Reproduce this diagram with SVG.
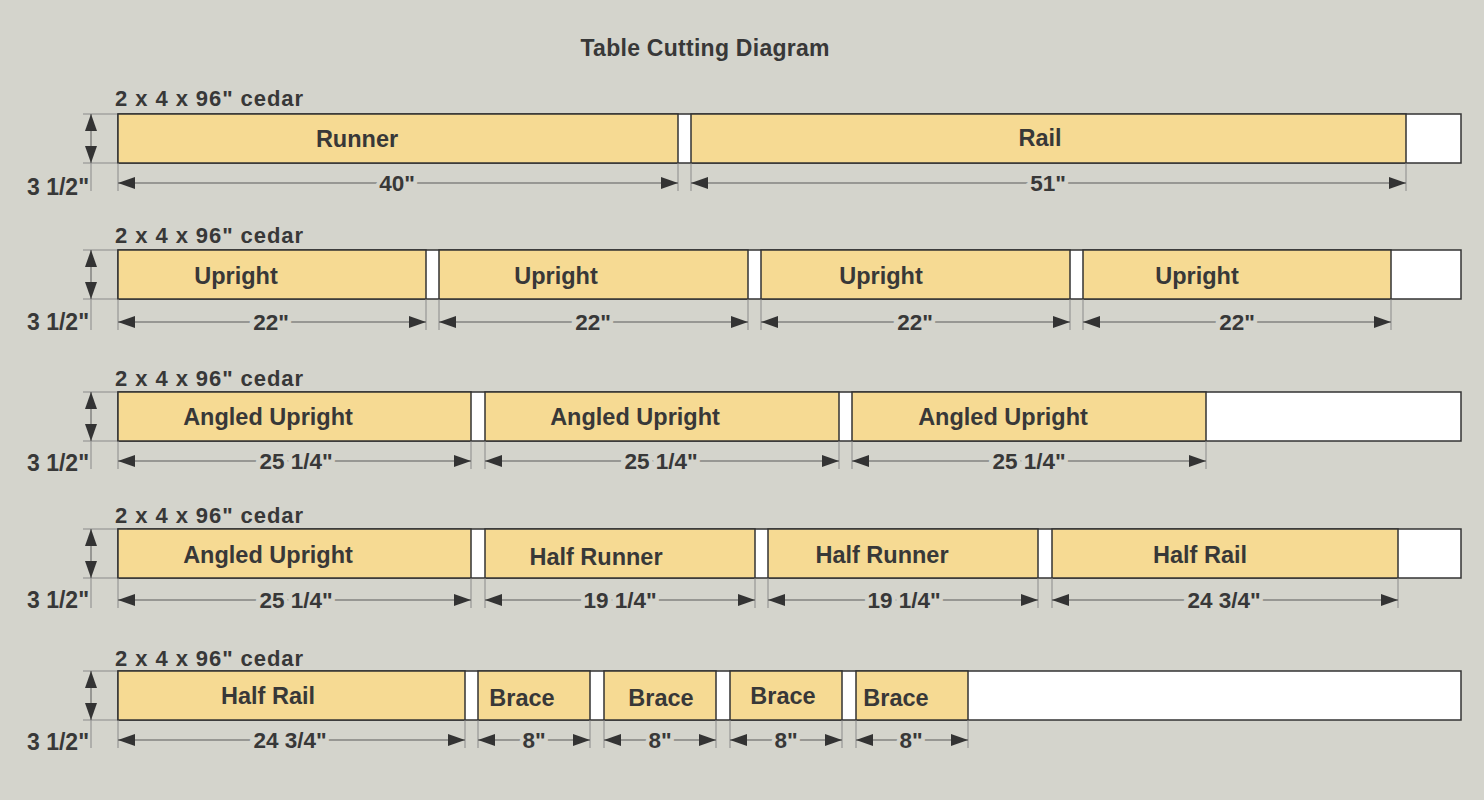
<svg xmlns="http://www.w3.org/2000/svg" width="1484" height="800" viewBox="0 0 1484 800">
<defs>
<style>
text{font-family:"Liberation Sans",Arial,sans-serif;font-weight:bold;fill:#383838}
.title{font-size:23px}
.stock{font-size:22px}
.th{font-size:23px}
.lbl{font-size:23.5px;text-anchor:middle}
.dl{font-size:22.5px;text-anchor:middle;stroke:#d4d4cc;stroke-width:8px;paint-order:stroke}
.board{fill:#ffffff;stroke:#333;stroke-width:1.5}
.wood{fill:#f6da93;stroke:#333;stroke-width:1.5}
.ext{stroke:#8a8a8a;stroke-width:1;fill:none}
.dim{stroke:#5a5a5a;stroke-width:1;fill:none;marker-start:url(#ah);marker-end:url(#ah)}
</style>
<marker id="ah" markerUnits="userSpaceOnUse" markerWidth="17" markerHeight="12" refX="17" refY="6" orient="auto-start-reverse" viewBox="0 0 17 12">
<path d="M0,0 L17,6 L0,12 z" fill="#333"/>
</marker>
</defs>
<rect width="1484" height="800" fill="#d4d4cc"/>
<text class="title" x="705" y="56" text-anchor="middle" textLength="249">Table Cutting Diagram</text>

<g id="row1">
<text class="stock" x="115" y="106" textLength="188">2 x 4 x 96" cedar</text>
<rect class="board" x="118" y="114" width="1343" height="49"/>
<g id="runner"><rect class="wood" x="118" y="114" width="560" height="49"/><text class="lbl" x="357" y="147">Runner</text></g>
<g id="rail"><rect class="wood" x="691" y="114" width="715" height="49"/><text class="lbl" x="1040" y="146">Rail</text></g>
</g>

<g id="row2">
<text class="stock" x="115" y="243" textLength="188">2 x 4 x 96" cedar</text>
<rect class="board" x="118" y="250" width="1343" height="49"/>
<g id="upright1"><rect class="wood" x="118" y="250" width="308" height="49"/><text class="lbl" x="236" y="284">Upright</text></g>
<g id="upright2"><rect class="wood" x="439" y="250" width="309" height="49"/><text class="lbl" x="556" y="284">Upright</text></g>
<g id="upright3"><rect class="wood" x="761" y="250" width="309" height="49"/><text class="lbl" x="881" y="284">Upright</text></g>
<g id="upright4"><rect class="wood" x="1083" y="250" width="308" height="49"/><text class="lbl" x="1197" y="284">Upright</text></g>
</g>

<g id="row3">
<text class="stock" x="115" y="386" textLength="188">2 x 4 x 96" cedar</text>
<rect class="board" x="118" y="392" width="1343" height="49"/>
<g id="angled1"><rect class="wood" x="118" y="392" width="353" height="49"/><text class="lbl" x="268" y="425">Angled Upright</text></g>
<g id="angled2"><rect class="wood" x="485" y="392" width="354" height="49"/><text class="lbl" x="635" y="425">Angled Upright</text></g>
<g id="angled3"><rect class="wood" x="852" y="392" width="354" height="49"/><text class="lbl" x="1003" y="425">Angled Upright</text></g>
</g>

<g id="row4">
<text class="stock" x="115" y="523" textLength="188">2 x 4 x 96" cedar</text>
<rect class="board" x="118" y="529" width="1343" height="49"/>
<g id="angled4"><rect class="wood" x="118" y="529" width="353" height="49"/><text class="lbl" x="268" y="563">Angled Upright</text></g>
<g id="halfrunner1"><rect class="wood" x="485" y="529" width="270" height="49"/><text class="lbl" x="596" y="565">Half Runner</text></g>
<g id="halfrunner2"><rect class="wood" x="768" y="529" width="270" height="49"/><text class="lbl" x="882" y="563">Half Runner</text></g>
<g id="halfrail1"><rect class="wood" x="1052" y="529" width="346" height="49"/><text class="lbl" x="1200" y="563">Half Rail</text></g>
</g>

<g id="row5">
<text class="stock" x="115" y="666" textLength="188">2 x 4 x 96" cedar</text>
<rect class="board" x="118" y="671" width="1343" height="49"/>
<g id="halfrail2"><rect class="wood" x="118" y="671" width="347" height="49"/><text class="lbl" x="268" y="704">Half Rail</text></g>
<g id="brace1"><rect class="wood" x="478" y="671" width="112" height="49"/><text class="lbl" x="522" y="706">Brace</text></g>
<g id="brace2"><rect class="wood" x="604" y="671" width="112" height="49"/><text class="lbl" x="661" y="706">Brace</text></g>
<g id="brace3"><rect class="wood" x="730" y="671" width="112" height="49"/><text class="lbl" x="783" y="704">Brace</text></g>
<g id="brace4"><rect class="wood" x="856" y="671" width="112" height="49"/><text class="lbl" x="896" y="706">Brace</text></g>
</g>

<g id="connectors">
<g class="ext">
<path d="M83,114H117M83,163H117M83,250H117M83,299H117M83,392H117M83,441H117M83,529H117M83,578H117M83,671H117M83,720H117"/>
<path d="M91,163V191M91,299V330M91,441V469M91,578V608M91,720V748"/>
</g>
<path class="dim" d="M91,163V114"/>
<path class="dim" d="M91,299V250"/>
<path class="dim" d="M91,441V392"/>
<path class="dim" d="M91,578V529"/>
<path class="dim" d="M91,720V671"/>
<path class="ext" d="M118,163V191M678,163V191M691,163V191M1406,163V191"/>
<path class="ext" d="M118,299V330M426,299V330M439,299V330M748,299V330M761,299V330M1070,299V330M1083,299V330M1391,299V330"/>
<path class="ext" d="M118,441V469M471,441V469M485,441V469M839,441V469M852,441V469M1206,441V469"/>
<path class="ext" d="M118,578V608M471,578V608M485,578V608M755,578V608M768,578V608M1038,578V608M1052,578V608M1398,578V608"/>
<path class="ext" d="M118,720V748M465,720V748M478,720V748M590,720V748M604,720V748M716,720V748M730,720V748M842,720V748M856,720V748M968,720V748"/>
<path class="dim" d="M118,183H678"/><path class="dim" d="M691,183H1406"/>
<path class="dim" d="M118,322H426"/><path class="dim" d="M439,322H748"/><path class="dim" d="M761,322H1070"/><path class="dim" d="M1083,322H1391"/>
<path class="dim" d="M118,461H471"/><path class="dim" d="M485,461H839"/><path class="dim" d="M852,461H1206"/>
<path class="dim" d="M118,600H471"/><path class="dim" d="M485,600H755"/><path class="dim" d="M768,600H1038"/><path class="dim" d="M1052,600H1398"/>
<path class="dim" d="M118,740H465"/><path class="dim" d="M478,740H590"/><path class="dim" d="M604,740H716"/><path class="dim" d="M730,740H842"/><path class="dim" d="M856,740H968"/>
</g>

<g id="dim-labels">
<text class="th" x="27" y="195">3 1/2"</text>
<text class="th" x="27" y="330">3 1/2"</text>
<text class="th" x="27" y="471">3 1/2"</text>
<text class="th" x="27" y="608">3 1/2"</text>
<text class="th" x="27" y="750">3 1/2"</text>
<text class="dl" x="397" y="191">40"</text><text class="dl" x="1048" y="191">51"</text>
<text class="dl" x="271" y="330">22"</text><text class="dl" x="593" y="330">22"</text><text class="dl" x="915" y="330">22"</text><text class="dl" x="1237" y="330">22"</text>
<text class="dl" x="296" y="469">25 1/4"</text><text class="dl" x="661" y="469">25 1/4"</text><text class="dl" x="1029" y="469">25 1/4"</text>
<text class="dl" x="296" y="608">25 1/4"</text><text class="dl" x="620" y="608">19 1/4"</text><text class="dl" x="904" y="608">19 1/4"</text><text class="dl" x="1224" y="608">24 3/4"</text>
<text class="dl" x="290" y="748">24 3/4"</text><text class="dl" x="534" y="748">8"</text><text class="dl" x="660" y="748">8"</text><text class="dl" x="786" y="748">8"</text><text class="dl" x="911" y="748">8"</text>
</g>
</svg>
